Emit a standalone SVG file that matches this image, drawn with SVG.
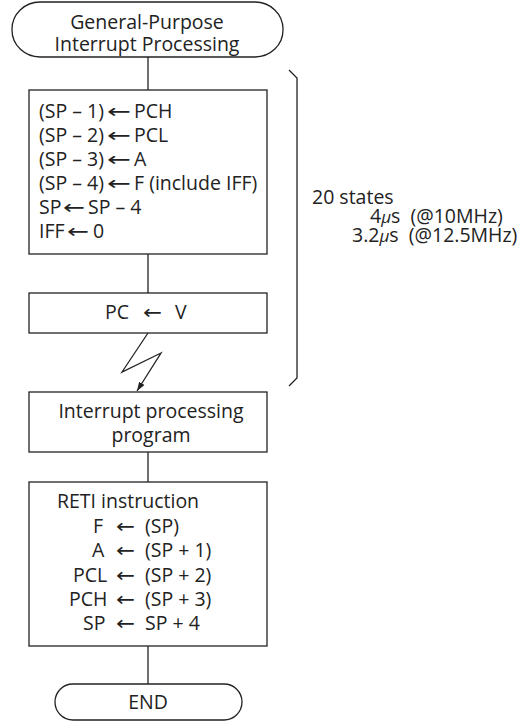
<svg xmlns="http://www.w3.org/2000/svg" width="526" height="723" viewBox="0 0 526 723">
<style>
.s{fill:none;stroke:#222;stroke-width:1.3}
.b{fill:#fff;stroke:#222;stroke-width:1.3}
text{font-family:"Open Sans","Liberation Sans",sans-serif;font-size:19.5px;fill:#222}
.c{text-anchor:middle}
.arr{font-family:"DejaVu Sans","Liberation Sans",sans-serif}
</style>
<defs>
<marker id="ah" viewBox="0 0 10 10" refX="10" refY="5" markerWidth="9" markerHeight="9" markerUnits="userSpaceOnUse" orient="auto">
<path d="M0,1.5 L10,5 L0,8.5 Z" fill="#222"/>
</marker>
</defs>
<rect width="526" height="723" fill="#fff"/>
<g id="connectors">
<line class="s" x1="148" y1="57" x2="148" y2="90"/>
<line class="s" x1="148" y1="254" x2="148" y2="293"/>
<polyline class="s" points="148,333 122,372 161,353 137,391" marker-end="url(#ah)"/>
<line class="s" x1="148" y1="452" x2="148" y2="482"/>
<line class="s" x1="148" y1="646" x2="148" y2="684"/>
</g>
<g id="start">
<rect class="b" x="12" y="2" width="271" height="55" rx="28" ry="27"/>
<text class="c"><tspan x="147" y="29">General-Purpose</tspan><tspan x="147" y="51">Interrupt Processing</tspan></text>
</g>
<g id="push">
<rect class="b" x="29" y="90" width="238" height="164"/>
<text>
<tspan x="39" y="118">(SP – 1)</tspan><tspan class="arr" x="107" y="118" textLength="24" lengthAdjust="spacingAndGlyphs">←</tspan><tspan x="134" y="118">PCH</tspan>
<tspan x="39" y="142">(SP – 2)</tspan><tspan class="arr" x="107" y="142" textLength="24" lengthAdjust="spacingAndGlyphs">←</tspan><tspan x="134" y="142">PCL</tspan>
<tspan x="39" y="166">(SP – 3)</tspan><tspan class="arr" x="107" y="166" textLength="24" lengthAdjust="spacingAndGlyphs">←</tspan><tspan x="134" y="166">A</tspan>
<tspan x="39" y="190">(SP – 4)</tspan><tspan class="arr" x="107" y="190" textLength="24" lengthAdjust="spacingAndGlyphs">←</tspan><tspan x="134" y="190">F (include IFF)</tspan>
<tspan x="39" y="214">SP</tspan><tspan class="arr" x="63" y="214" textLength="22" lengthAdjust="spacingAndGlyphs">←</tspan><tspan x="88" y="214">SP – 4</tspan>
<tspan x="39" y="238">IFF</tspan><tspan class="arr" x="67" y="238" textLength="22" lengthAdjust="spacingAndGlyphs">←</tspan><tspan x="93" y="238">0</tspan>
</text>
</g>
<g id="pcv">
<rect class="b" x="29" y="293" width="238" height="40"/>
<text><tspan x="105" y="319">PC</tspan><tspan class="arr" x="143" y="319" textLength="19" lengthAdjust="spacingAndGlyphs">←</tspan><tspan x="175" y="319">V</tspan></text>
</g>
<g id="program">
<rect class="b" x="29" y="392" width="238" height="60"/>
<text class="c"><tspan x="151" y="418">Interrupt processing</tspan><tspan x="151" y="442">program</tspan></text>
</g>
<g id="reti">
<rect class="b" x="29" y="482" width="238" height="164"/>
<text>
<tspan x="57" y="508">RETI instruction</tspan>
<tspan x="93" y="533">F</tspan><tspan class="arr" x="116" y="533" textLength="19" lengthAdjust="spacingAndGlyphs">←</tspan><tspan x="145" y="533">(SP)</tspan>
<tspan x="92" y="557">A</tspan><tspan class="arr" x="116" y="557" textLength="19" lengthAdjust="spacingAndGlyphs">←</tspan><tspan x="145" y="557">(SP + 1)</tspan>
<tspan x="73" y="582">PCL</tspan><tspan class="arr" x="116" y="582" textLength="19" lengthAdjust="spacingAndGlyphs">←</tspan><tspan x="145" y="582">(SP + 2)</tspan>
<tspan x="69" y="606">PCH</tspan><tspan class="arr" x="116" y="606" textLength="19" lengthAdjust="spacingAndGlyphs">←</tspan><tspan x="145" y="606">(SP + 3)</tspan>
<tspan x="83" y="630">SP</tspan><tspan class="arr" x="116" y="630" textLength="19" lengthAdjust="spacingAndGlyphs">←</tspan><tspan x="145" y="630">SP + 4</tspan>
</text>
</g>
<g id="end">
<rect class="b" x="55" y="684" width="187" height="36" rx="18"/>
<text class="c" x="148" y="709">END</text>
</g>
<g id="timing">
<path class="s" d="M289,70 L297,78 L297,378 L289,386"/>
<text x="312" y="204">20 states</text>
<text x="370" y="223" xml:space="preserve">4<tspan font-style="italic" font-size="17">μ</tspan>s  (@10MHz)</text>
<text x="352" y="242" xml:space="preserve">3.2<tspan font-style="italic" font-size="17">μ</tspan>s  (@12.5MHz)</text>
</g>
</svg>
